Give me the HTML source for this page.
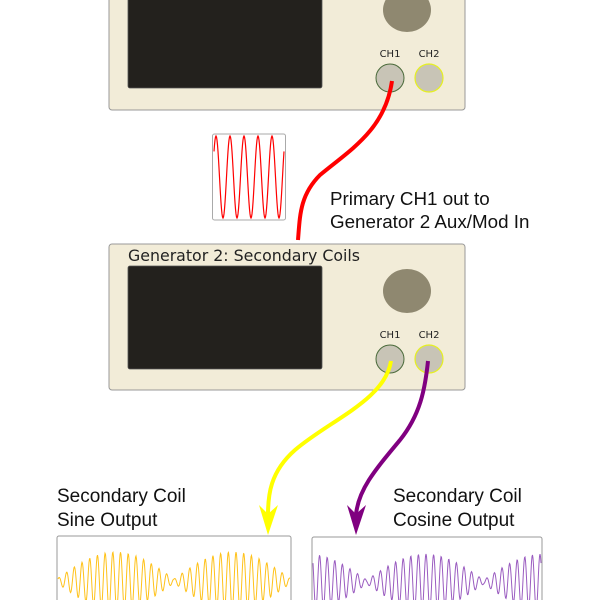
<!DOCTYPE html>
<html><head><meta charset="utf-8"><style>
body{margin:0;background:#fff;width:600px;height:600px;overflow:hidden}
svg{display:block}
text{font-family:"Liberation Sans","DejaVu Sans",sans-serif}
</style></head><body>
<svg width="600" height="600" viewBox="0 0 600 600" xmlns="http://www.w3.org/2000/svg">
<rect x="109" y="-37" width="356" height="147" rx="3" fill="#f2ecd8" stroke="#999" stroke-width="1"/>
<rect x="128" y="-15" width="194" height="103" rx="2" fill="#23211d" stroke="#555" stroke-width="0.8"/>
<ellipse cx="407" cy="10" rx="24" ry="22" fill="#8f8870"/>
<text x="390" y="57" font-size="10" text-anchor="middle" fill="#222" style="font-family:'DejaVu Sans',sans-serif">CH1</text>
<text x="429" y="57" font-size="10" text-anchor="middle" fill="#222" style="font-family:'DejaVu Sans',sans-serif">CH2</text>
<circle cx="390" cy="78" r="14" fill="#c8c4b6" stroke="#4a6a3a" stroke-width="1"/>
<circle cx="429" cy="78" r="14" fill="#c8c4b6" stroke="#e6f020" stroke-width="1.2"/>
<rect x="212.5" y="134" width="73" height="86" rx="2" fill="#fff" stroke="#aaa"/>
<path id="rw" fill="none" stroke="#f00" stroke-width="1.2"/>
<path d="M392 81 C385 130 350 150 320 175 C300 195 300 215 298 240" fill="none" stroke="#f00" stroke-width="4"/>
<text x="330" y="205" font-size="18.8" fill="#111">Primary CH1 out to</text>
<text x="330" y="228" font-size="18.8" fill="#111">Generator 2 Aux/Mod In</text>
<rect x="109" y="244" width="356" height="146" rx="3" fill="#f2ecd8" stroke="#999" stroke-width="1"/>
<text x="128" y="261" font-size="15.8" fill="#222" style="font-family:'DejaVu Sans',sans-serif">Generator 2: Secondary Coils</text>
<rect x="128" y="266" width="194" height="103" rx="2" fill="#23211d" stroke="#555" stroke-width="0.8"/>
<ellipse cx="407" cy="291" rx="24" ry="22" fill="#8f8870"/>
<text x="390" y="338" font-size="10" text-anchor="middle" fill="#222" style="font-family:'DejaVu Sans',sans-serif">CH1</text>
<text x="429" y="338" font-size="10" text-anchor="middle" fill="#222" style="font-family:'DejaVu Sans',sans-serif">CH2</text>
<circle cx="390" cy="359" r="14" fill="#c8c4b6" stroke="#4a6a3a" stroke-width="1"/>
<circle cx="429" cy="359" r="14" fill="#c8c4b6" stroke="#e6f020" stroke-width="1.2"/>
<path d="M391 361 C385 400 330 420 295 450 C270 472 268 495 268 515" fill="none" stroke="#ff0" stroke-width="4"/>
<path d="M259 505 L268 535 L278 505 L268 514 Z" fill="#ff0"/>
<path d="M428 361 C425 390 420 415 400 440 C375 470 358 490 356 515" fill="none" stroke="#800080" stroke-width="4"/>
<path d="M347 505 L356 535 L366 505 L356 514 Z" fill="#800080"/>
<text x="57" y="502" font-size="19" fill="#111">Secondary Coil</text>
<text x="57" y="526" font-size="19" fill="#111">Sine Output</text>
<text x="393" y="502" font-size="19" fill="#111">Secondary Coil</text>
<text x="393" y="526" font-size="19" fill="#111">Cosine Output</text>
<rect x="57" y="536" width="234" height="70" rx="2" fill="#fff" stroke="#999"/>
<rect x="312" y="537" width="230" height="70" rx="2" fill="#fff" stroke="#999"/>
<path id="yw" fill="none" stroke="#ffc21a" stroke-width="1"/>
<path id="pw" fill="none" stroke="#9a5cc0" stroke-width="1"/>
</svg>
<script>
function P(id,x0,x1,f){var d="";for(var x=x0;x<=x1;x+=0.5){var y=f(x);d+=(d?"L":"M")+x.toFixed(1)+" "+y.toFixed(2);}document.getElementById(id).setAttribute("d",d);}
P("rw",214,284,function(x){return 177-41*Math.cos((x-216)/70*5*2*Math.PI);});
P("yw",58,290,function(x){var e=Math.abs(Math.sin((x-57)/117*Math.PI))*27+2;return 581-e*Math.sin((x-57)/7.7*2*Math.PI);});
P("pw",313,541,function(x){var e=Math.abs(Math.cos((x-312)/117*Math.PI+0.1))*26+2;return 582-e*Math.cos((x-312)/7.6*2*Math.PI);});
</script>
</body></html>
